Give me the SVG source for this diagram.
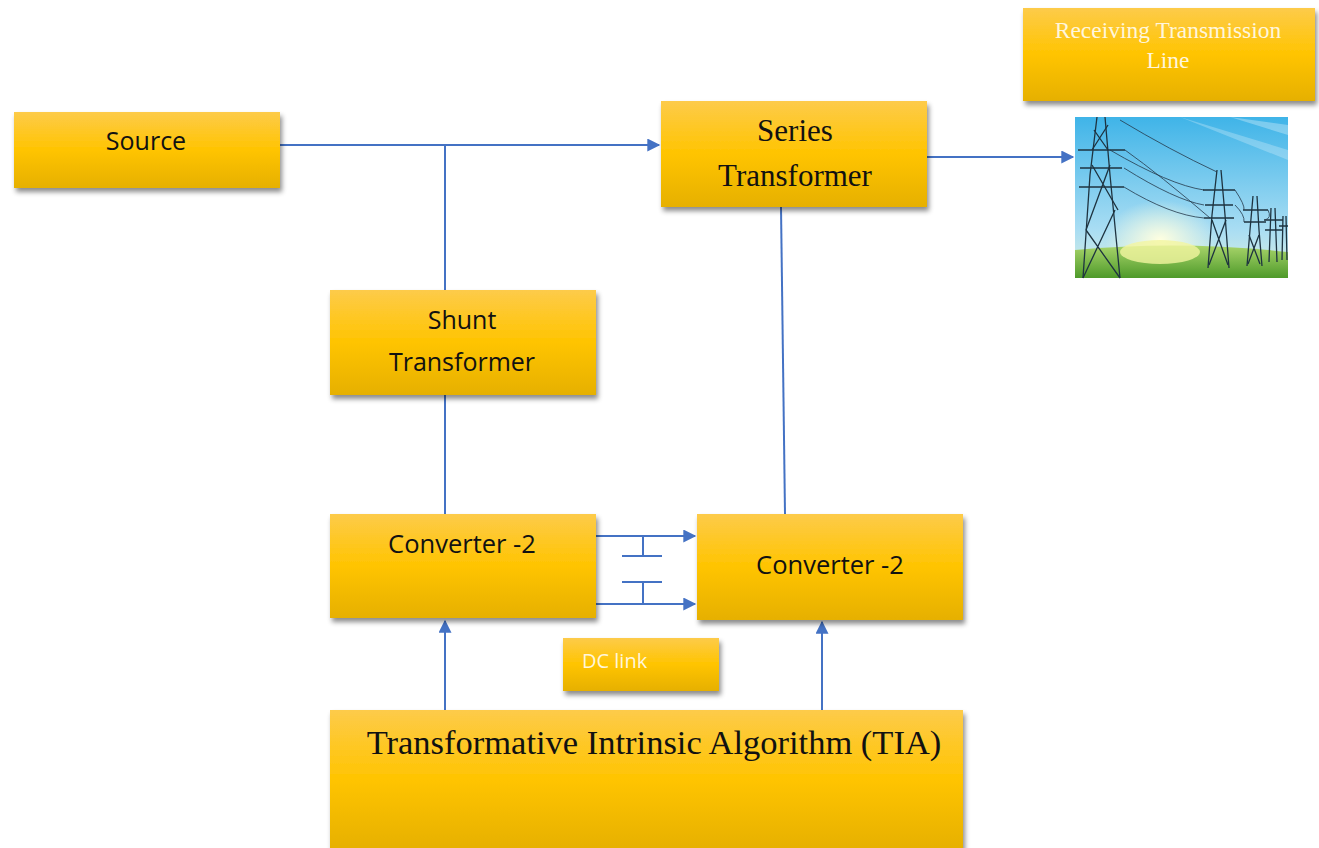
<svg xmlns="http://www.w3.org/2000/svg" width="1319" height="848" viewBox="0 0 1319 848">
<defs>
<linearGradient id="gold" x1="0" y1="0" x2="0" y2="1">
<stop offset="0" stop-color="#FDCB4A"/>
<stop offset="0.5" stop-color="#FFC400"/>
<stop offset="1" stop-color="#E6B000"/>
</linearGradient>
<linearGradient id="sky" x1="0" y1="0" x2="0" y2="1">
<stop offset="0" stop-color="#3FB4E8"/>
<stop offset="0.7" stop-color="#A9DDF3"/>
<stop offset="1" stop-color="#DDF1E0"/>
</linearGradient>
<radialGradient id="sun" cx="0.5" cy="0.5" r="0.5">
<stop offset="0" stop-color="#FFFFE0" stop-opacity="1"/>
<stop offset="1" stop-color="#FFFFE0" stop-opacity="0"/>
</radialGradient>
<linearGradient id="grass" x1="0" y1="0" x2="0" y2="1">
<stop offset="0" stop-color="#A8D46A"/>
<stop offset="1" stop-color="#4E9A2A"/>
</linearGradient>
<filter id="sh" x="-10%" y="-10%" width="125%" height="135%">
<feDropShadow dx="2" dy="4" stdDeviation="2.5" flood-color="#000" flood-opacity="0.45"/>
</filter>
<marker id="ah" viewBox="0 0 10 10" refX="9" refY="5" markerWidth="7" markerHeight="6.5" orient="auto-start-reverse">
<path d="M0,0 L10,5 L0,10 z" fill="#4472C4"/>
</marker>
</defs>
<style>
.box{fill:url(#gold);filter:url(#sh);}
.sans{font-family:"Open Sans","Noto Sans","Liberation Sans",sans-serif;fill:#111;}
.serif{font-family:"Liberation Serif","DejaVu Serif",serif;fill:#111;}
.light{fill:#FFF6DC;}
.wire{stroke:#4472C4;stroke-width:2;fill:none;}
.tw{stroke:#1E3340;stroke-width:1.3;fill:none;}
.cab{stroke:#25384A;stroke-width:0.8;fill:none;}
</style>
<rect width="1319" height="848" fill="#fff"/>

<g id="connectors">
<line class="wire" x1="280" y1="145" x2="659" y2="145" marker-end="url(#ah)"/>
<line class="wire" x1="445" y1="145" x2="445" y2="290"/>
<line class="wire" x1="445" y1="395" x2="445" y2="514"/>
<line class="wire" x1="781" y1="207" x2="785" y2="514"/>
<line class="wire" x1="927" y1="157" x2="1073" y2="157" marker-end="url(#ah)"/>
<line class="wire" x1="596" y1="536" x2="695" y2="536" marker-end="url(#ah)"/>
<line class="wire" x1="596" y1="604" x2="695" y2="604" marker-end="url(#ah)"/>
<line class="wire" x1="643" y1="536" x2="643" y2="556"/>
<line class="wire" x1="622" y1="556" x2="662" y2="556"/>
<line class="wire" x1="622" y1="582" x2="662" y2="582"/>
<line class="wire" x1="643" y1="582" x2="643" y2="604"/>
<line class="wire" x1="445" y1="710" x2="445" y2="621" marker-end="url(#ah)"/>
<line class="wire" x1="822" y1="710" x2="822" y2="622" marker-end="url(#ah)"/>
</g>

<g id="source">
<rect class="box" x="14" y="112" width="266" height="76"/>
<text class="sans" x="146" y="150" font-size="25" text-anchor="middle">Source</text>
</g>

<g id="series-transformer">
<rect class="box" x="661" y="101" width="266" height="106"/>
<text class="serif" x="795" y="141" font-size="31" text-anchor="middle">Series</text>
<text class="serif" x="795" y="186" font-size="31" text-anchor="middle">Transformer</text>
</g>

<g id="receiving-transmission-line">
<rect class="box" x="1023" y="8" width="292" height="93"/>
<text class="serif light" x="1168" y="38" font-size="23.5" text-anchor="middle">Receiving Transmission</text>
<text class="serif light" x="1168" y="68" font-size="23.5" text-anchor="middle">Line</text>
</g>

<g id="transmission-picture">
<rect x="1075" y="117" width="213" height="161" fill="url(#sky)"/>
<path d="M1180,117 L1288,150 L1288,160 Z" fill="#fff" opacity="0.25"/>
<path d="M1230,117 L1288,125 L1288,135 Z" fill="#fff" opacity="0.3"/>
<ellipse cx="1160" cy="240" rx="55" ry="40" fill="url(#sun)"/>
<path d="M1075,250 Q1180,240 1288,252 L1288,278 L1075,278 Z" fill="url(#grass)"/>
<ellipse cx="1160" cy="252" rx="40" ry="12" fill="#F2F5A0" opacity="0.8"/>
<g class="tw">
<path d="M1097,117 L1090,175 L1083,278 M1105,117 L1110,175 L1120,278"/>
<path d="M1078,150 L1125,150 M1080,168 L1122,168 M1079,187 L1124,187"/>
<path d="M1092,165 L1118,210 M1110,165 L1086,230 M1086,230 L1120,278 M1115,210 L1083,278 M1094,130 L1108,150 M1108,125 L1092,150"/>
</g>
<g class="tw" stroke-width="1.1">
<path d="M1217,170 L1212,215 L1208,268 M1221,170 L1225,215 L1229,268"/>
<path d="M1203,190 L1235,190 M1205,205 L1233,205 M1204,218 L1234,218"/>
<path d="M1212,220 L1228,265 M1226,220 L1209,265"/>
</g>
<g class="tw" stroke-width="1">
<path d="M1253,196 L1250,230 L1247,266 M1257,196 L1259,230 L1262,266"/>
<path d="M1243,210 L1268,210 M1244,222 L1266,222"/>
<path d="M1249,235 L1260,264 M1259,235 L1248,264"/>
</g>
<g class="tw" stroke-width="0.9">
<path d="M1271,208 L1269,262 M1275,208 L1277,262 M1264,220 L1283,220 M1265,230 L1282,230"/>
</g>
<g class="tw" stroke-width="0.9">
<path d="M1283,216 L1282,260 M1286,216 L1287,260 M1279,226 L1288,226"/>
</g>
<g class="cab">
<path d="M1110,150 Q1170,185 1204,190"/>
<path d="M1124,168 Q1175,200 1204,205"/>
<path d="M1124,187 Q1170,215 1204,218"/>
<path d="M1120,120 Q1170,150 1217,172"/>
<path d="M1235,190 Q1245,205 1244,210"/>
<path d="M1235,205 Q1245,215 1244,222"/>
<path d="M1268,210 Q1272,218 1265,220"/>
<path d="M1125,150 Q1160,175 1210,218"/>
</g>
</g>

<g id="shunt-transformer">
<rect class="box" x="330" y="290" width="266" height="105"/>
<text class="sans" x="462" y="329" font-size="25" text-anchor="middle">Shunt</text>
<text class="sans" x="462" y="371" font-size="25" text-anchor="middle">Transformer</text>
</g>

<g id="converter-left">
<rect class="box" x="330" y="514" width="266" height="104"/>
<text class="sans" x="462" y="553" font-size="25.5" text-anchor="middle">Converter -2</text>
</g>

<g id="converter-right">
<rect class="box" x="697" y="514" width="266" height="106"/>
<text class="sans" x="830" y="574" font-size="25.5" text-anchor="middle">Converter -2</text>
</g>

<g id="dc-link">
<rect class="box" x="563" y="638" width="156" height="53"/>
<text class="sans light" x="582" y="668" font-size="20">DC link</text>
</g>

<g id="tia">
<rect class="box" x="330" y="710" width="633" height="140"/>
<text class="serif" x="654" y="754" font-size="34.5" text-anchor="middle">Transformative Intrinsic Algorithm (TIA)</text>
</g>
</svg>
